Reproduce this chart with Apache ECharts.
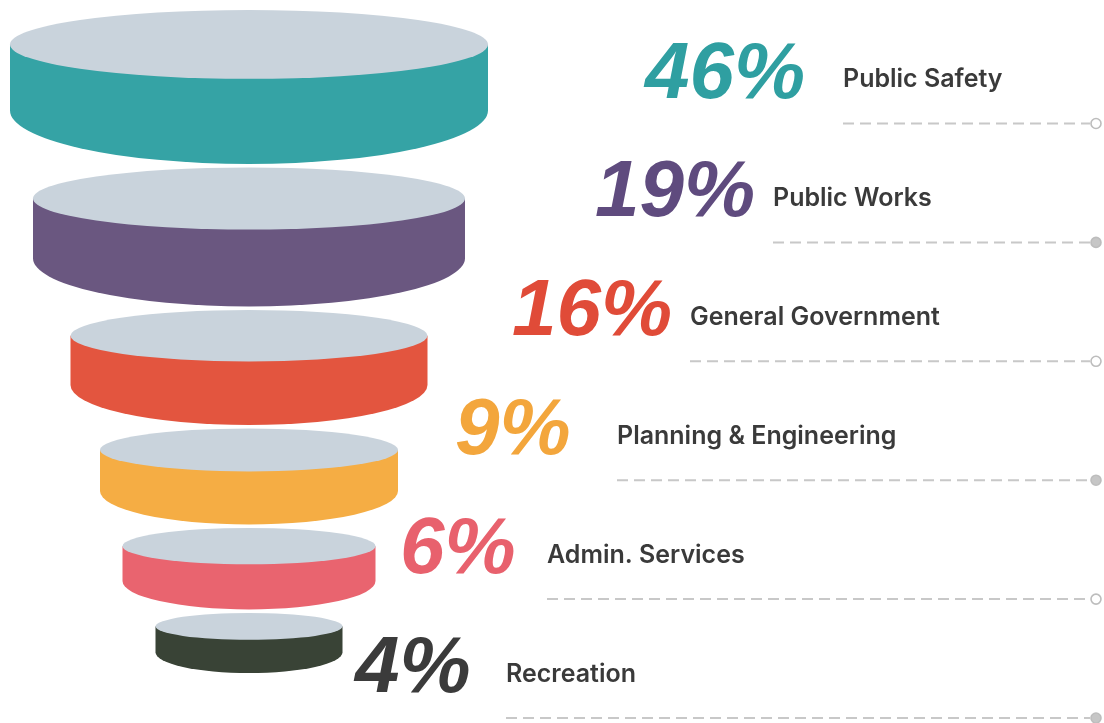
<!DOCTYPE html>
<html>
<head>
<meta charset="utf-8">
<script src="https://cdn.jsdelivr.net/npm/echarts@6/dist/echarts.min.js"></script>
<style>
html,body{margin:0;padding:0;background:#ffffff;}
#chart{width:1104px;height:723px;}
</style>
</head>
<body>
<div id="chart"></div>
<script>
// ---- data ----
const categories = ['Public Safety', 'Public Works', 'General Government', 'Planning & Engineering', 'Admin. Services', 'Recreation'];
const shares = [46, 19, 16, 9, 6, 4];
const shareLabels = shares.map(function (v) { return v + '%'; });

// ---- styles / layout ----
const sideColors = ['#35a3a5', '#6a5780', '#e3553f', '#f5ad44', '#e9646f', '#394336'];
const pctColors = ['#2f9fa1', '#5f4b7e', '#e04b38', '#f3a63c', '#e8616d', '#3b3b3b'];
const topColor = '#c9d3dc';
const discWidths = [478, 432, 357, 298, 253, 187];   // decorative funnel widths (px)
const pctLeft = [645, 595, 512, 455, 400, 355];
const labelLeft = [843, 773, 690, 617, 547, 506];
const lineEnd = 1090, dotX = 1096;
const discCenterX = 249, discTop0 = 10, discGap = 3.5;

const chart = echarts.init(document.getElementById('chart'), null, { renderer: 'canvas' });

function discTop(i) {
  let t = discTop0;
  for (let j = 0; j < i; j++) t += discWidths[j] * 0.322 + discGap;
  return t;
}

function renderItem(params, api) {
  const i = params.dataIndex;
  const rowY = api.coord([0, i])[1];
  const cx = api.coord([discCenterX, i])[0];
  const w = discWidths[i];
  const rx = w / 2;
  const topRy = w * 0.072, side = w * 0.138, botRy = w * 0.112;
  const cy = discTop(i) + topRy;
  const sidePath = 'M' + (cx - rx) + ' ' + cy +
    ' L' + (cx - rx) + ' ' + (cy + side) +
    ' A' + rx + ' ' + botRy + ' 0 0 0 ' + (cx + rx) + ' ' + (cy + side) +
    ' L' + (cx + rx) + ' ' + cy + ' Z';
  const topPath = 'M' + (cx - rx) + ' ' + cy +
    ' A' + rx + ' ' + topRy + ' 0 1 0 ' + (cx + rx) + ' ' + cy +
    ' A' + rx + ' ' + topRy + ' 0 1 0 ' + (cx - rx) + ' ' + cy + ' Z';
  const pctX = api.coord([pctLeft[i], i])[0];
  const labX = api.coord([labelLeft[i], i])[0];
  const endX = api.coord([lineEnd, i])[0];
  const dX = api.coord([dotX, i])[0];
  const filledDot = i % 2 === 1;
  return {
    type: 'group',
    children: [
      { type: 'path', shape: { pathData: sidePath }, style: { fill: sideColors[i] } },
      { type: 'path', shape: { pathData: topPath }, style: { fill: topColor } },
      {
        type: 'text',
        style: {
          text: shareLabels[i], x: pctX, y: rowY - 48,
          fill: pctColors[i], font: 'italic bold 80px "Liberation Sans", Arial, sans-serif',
          align: 'left', verticalAlign: 'middle'
        }
      },
      {
        type: 'text',
        style: {
          text: categories[i], x: labX, y: rowY - 44,
          fill: '#3a3a3a', font: '600 25px Inter, "Noto Sans", sans-serif',
          align: 'left', verticalAlign: 'middle'
        }
      },
      {
        type: 'line',
        shape: { x1: labX, y1: rowY, x2: endX, y2: rowY },
        style: { stroke: '#c8c8c8', lineWidth: 2, lineDash: [11, 6] }
      },
      {
        type: 'circle',
        shape: { cx: dX, cy: rowY, r: 5 },
        style: { fill: filledDot ? '#c6c6c6' : '#ffffff', stroke: '#bdbdbd', lineWidth: 1.6 }
      }
    ]
  };
}

chart.setOption({
  backgroundColor: '#ffffff',
  animation: false,
  grid: { left: 0, right: 0, top: 123.5, bottom: 5, containLabel: false },
  xAxis: { type: 'value', min: 0, max: 1104, show: false },
  yAxis: { type: 'category', data: categories, inverse: true, boundaryGap: false, show: false },
  series: [{
    type: 'custom',
    coordinateSystem: 'cartesian2d',
    clip: false,
    silent: true,
    data: shares.map(function (v, i) { return [0, i, v]; }),
    encode: { x: 0, y: 1 },
    renderItem: renderItem
  }]
});
</script>
</body>
</html>
